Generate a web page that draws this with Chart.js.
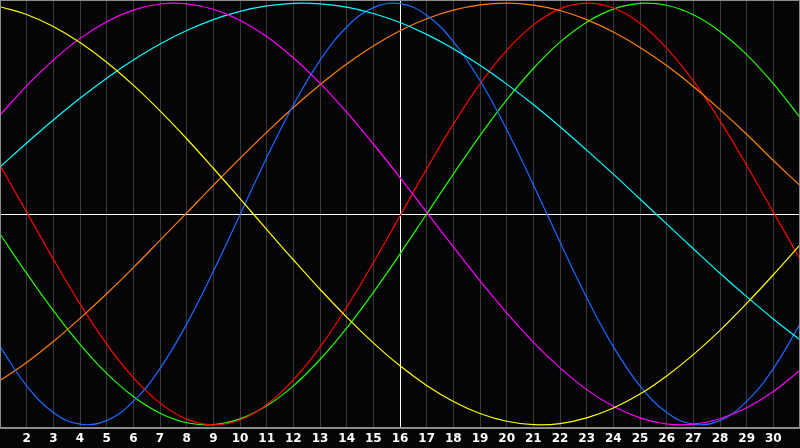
<!DOCTYPE html>
<html>
<head>
<meta charset="utf-8">
<script src="https://cdn.jsdelivr.net/npm/chart.js@4.4.0/dist/chart.umd.min.js"></script>
<style>
  html, body { margin: 0; padding: 0; background: #050407; }
  #wrap { width: 800px; height: 448px; }
</style>
</head>
<body>
<div id="wrap"><canvas id="bioChart" width="800" height="448"></canvas></div>
<script>
// days of the month shown on the x axis
const days = [1, 2, 3, 4, 5, 6, 7, 8, 9, 10, 11, 12, 13, 14, 15, 16, 17, 18, 19, 20, 21, 22, 23, 24, 25, 26, 27, 28, 29, 30, 31];

// cycle values (one per day)
const physical = [-0.629, -0.815, -0.941, -0.997, -0.980, -0.889, -0.733, -0.522, -0.272, -0.003, 0.267, 0.517, 0.729, 0.887, 0.979, 0.998, 0.943, 0.818, 0.633, 0.401, 0.139, -0.133, -0.396, -0.629, -0.815, -0.941, -0.997, -0.980, -0.889, -0.733, -0.522];
const emotional = [0.231, 0.009, -0.214, -0.426, -0.617, -0.776, -0.897, -0.973, -1.000, -0.977, -0.905, -0.787, -0.631, -0.442, -0.231, -0.009, 0.214, 0.426, 0.617, 0.776, 0.897, 0.973, 1.000, 0.977, 0.905, 0.787, 0.631, 0.442, 0.231, 0.009, -0.214];
const intellectual = [-0.095, -0.282, -0.458, -0.618, -0.756, -0.866, -0.945, -0.990, -0.999, -0.972, -0.910, -0.815, -0.690, -0.541, -0.372, -0.189, 0.000, 0.189, 0.372, 0.541, 0.690, 0.815, 0.910, 0.972, 0.999, 0.990, 0.945, 0.866, 0.756, 0.618, 0.458];
const intuitive = [0.469, 0.608, 0.730, 0.833, 0.912, 0.967, 0.996, 0.997, 0.971, 0.919, 0.842, 0.741, 0.621, 0.483, 0.332, 0.173, 0.008, -0.156, -0.317, -0.469, -0.608, -0.730, -0.833, -0.912, -0.967, -0.996, -0.997, -0.971, -0.919, -0.842, -0.741];
const aesthetic = [0.983, 0.946, 0.889, 0.813, 0.720, 0.611, 0.489, 0.357, 0.217, 0.073, -0.073, -0.217, -0.357, -0.489, -0.611, -0.720, -0.813, -0.889, -0.946, -0.983, -0.999, -0.994, -0.967, -0.920, -0.854, -0.768, -0.667, -0.552, -0.424, -0.288, -0.146];
const awareness = [-0.790, -0.704, -0.605, -0.495, -0.378, -0.254, -0.125, 0.005, 0.136, 0.264, 0.387, 0.505, 0.613, 0.711, 0.797, 0.869, 0.926, 0.967, 0.992, 1.000, 0.991, 0.965, 0.922, 0.863, 0.790, 0.704, 0.605, 0.495, 0.378, 0.254, 0.135];
const spiritual = [0.223, 0.337, 0.446, 0.549, 0.644, 0.730, 0.806, 0.870, 0.922, 0.961, 0.987, 0.999, 0.997, 0.981, 0.951, 0.908, 0.852, 0.784, 0.705, 0.616, 0.519, 0.414, 0.303, 0.189, 0.071, -0.047, -0.165, -0.281, -0.392, -0.498, -0.597];

const today = 16;

const series = [
    { name: 'Aesthetic', values: aesthetic, color: '#ffff00' },
    { name: 'Intuitive', values: intuitive, color: '#ff00ff' },
    { name: 'Spiritual', values: spiritual, color: '#00ffff' },
    { name: 'Physical', values: physical, color: '#1a6bff' },
    { name: 'Awareness', values: awareness, color: '#ff8000' },
    { name: 'Emotional', values: emotional, color: '#ff0000' },
    { name: 'Intellectual', values: intellectual, color: '#22ff00' }
];

// dark background + grey frame around the plot
const framePlugin = {
    id: 'frame',
    beforeDraw(chart) {
        const ctx = chart.ctx;
        ctx.save();
        ctx.fillStyle = '#050407';
        ctx.fillRect(0, 0, chart.width, chart.height);
        ctx.restore();
    },
    afterDraw(chart) {
        const { ctx, chartArea } = chart;
        ctx.save();
        ctx.strokeStyle = '#8c8c8c';
        ctx.lineWidth = 2;
        ctx.strokeRect(chartArea.left, chartArea.top, chartArea.right - chartArea.left, chartArea.bottom - chartArea.top);
        ctx.restore();
    }
};

new Chart(document.getElementById('bioChart').getContext('2d'), {
    type: 'line',
    data: {
        datasets: series.map(s => ({
            label: s.name,
            data: days.map((d, i) => ({ x: d, y: s.values[i] })),
            borderColor: s.color,
            borderWidth: 1.2,
            pointRadius: 0,
            fill: false,
            tension: 0.4
        }))
    },
    options: {
        responsive: false,
        animation: false,
        layout: { padding: 0 },
        plugins: {
            legend: { display: false },
            tooltip: { enabled: false }
        },
        scales: {
            x: {
                type: 'linear',
                min: 1,
                max: 31,
                afterFit: scale => {
                    scale.height = 20;
                    scale.paddingLeft = 0;
                    scale.paddingRight = 0;
                },
                border: { display: false },
                grid: {
                    drawTicks: false,
                    lineWidth: 1,
                    color: ctx => ctx.tick && ctx.tick.value === today ? '#ffffff' : '#3a3a3a'
                },
                ticks: {
                    stepSize: 1,
                    autoSkip: false,
                    maxRotation: 0,
                    padding: 4,
                    color: '#ffffff',
                    font: { family: 'DejaVu Sans', size: 12, weight: 'bold' },
                    callback: v => (v === 1 || v === 31) ? '' : String(v)
                }
            },
            y: {
                min: -1.015,
                max: 1.015,
                afterFit: scale => { scale.width = 0; },
                border: { display: false },
                grid: {
                    drawTicks: false,
                    color: ctx => ctx.tick && ctx.tick.value === 0 ? '#ffffff' : 'rgba(0,0,0,0)'
                },
                ticks: { display: false, stepSize: 1 }
            }
        }
    },
    plugins: [framePlugin]
});
</script>
</body>
</html>
